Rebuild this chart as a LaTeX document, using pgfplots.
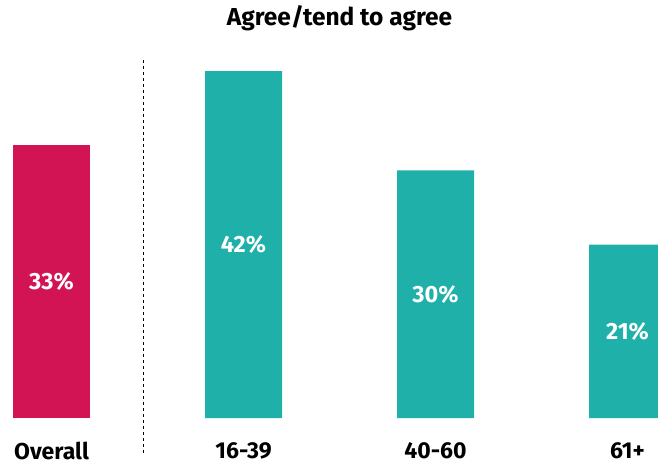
\documentclass[border=0pt]{standalone}
\usepackage{fontspec}
\setmainfont{Fira Sans}[BoldFont={Fira Sans Bold}]
\usepackage{pgfplots}
\pgfplotsset{compat=1.18}
\definecolor{redbar}{RGB}{210,20,85}
\definecolor{tealbar}{RGB}{31,176,170}
\begin{document}
\begin{tikzpicture}
\begin{axis}[
  scale only axis, width=658pt, height=466pt,
  xmin=0, xmax=658, ymin=-5.81, ymax=50.6,
  clip=true,
  axis line style={draw=none},
  major tick length=0pt,
  ytick=\empty,
  xtick={51.5,243.5,435.5,627.5},
  xticklabels={Overall,16-39,40-60,61+},
  xticklabel style={anchor=center, yshift=15.5pt, font=\fontsize{23}{27}\selectfont\bfseries},
  ybar, bar width=77pt, bar shift=0pt,
  nodes near coords style={font=\fontsize{23.5}{28}\selectfont\bfseries, text=white, anchor=center},
]
\addplot[fill=redbar, draw=none] coordinates {(51.5,33)};
\addplot[fill=tealbar, draw=none] coordinates {(243.5,42) (435.5,30) (627.5,21)};
\addplot[draw=none, fill=none, nodes near coords, point meta=explicit symbolic]
  coordinates {(51.5,16.5)[33\%] (243.5,21)[42\%] (435.5,15)[30\%] (627.5,10.5)[21\%]};
\draw[dashed, black, line width=0.8pt] (axis cs:143,43.3) -- (axis cs:143,-4.5);
\node[font=\fontsize{24.5}{29}\selectfont\bfseries, anchor=center] at (axis cs:339.5,48.4) {Agree/tend to agree};
\end{axis}
\end{tikzpicture}
\end{document}
